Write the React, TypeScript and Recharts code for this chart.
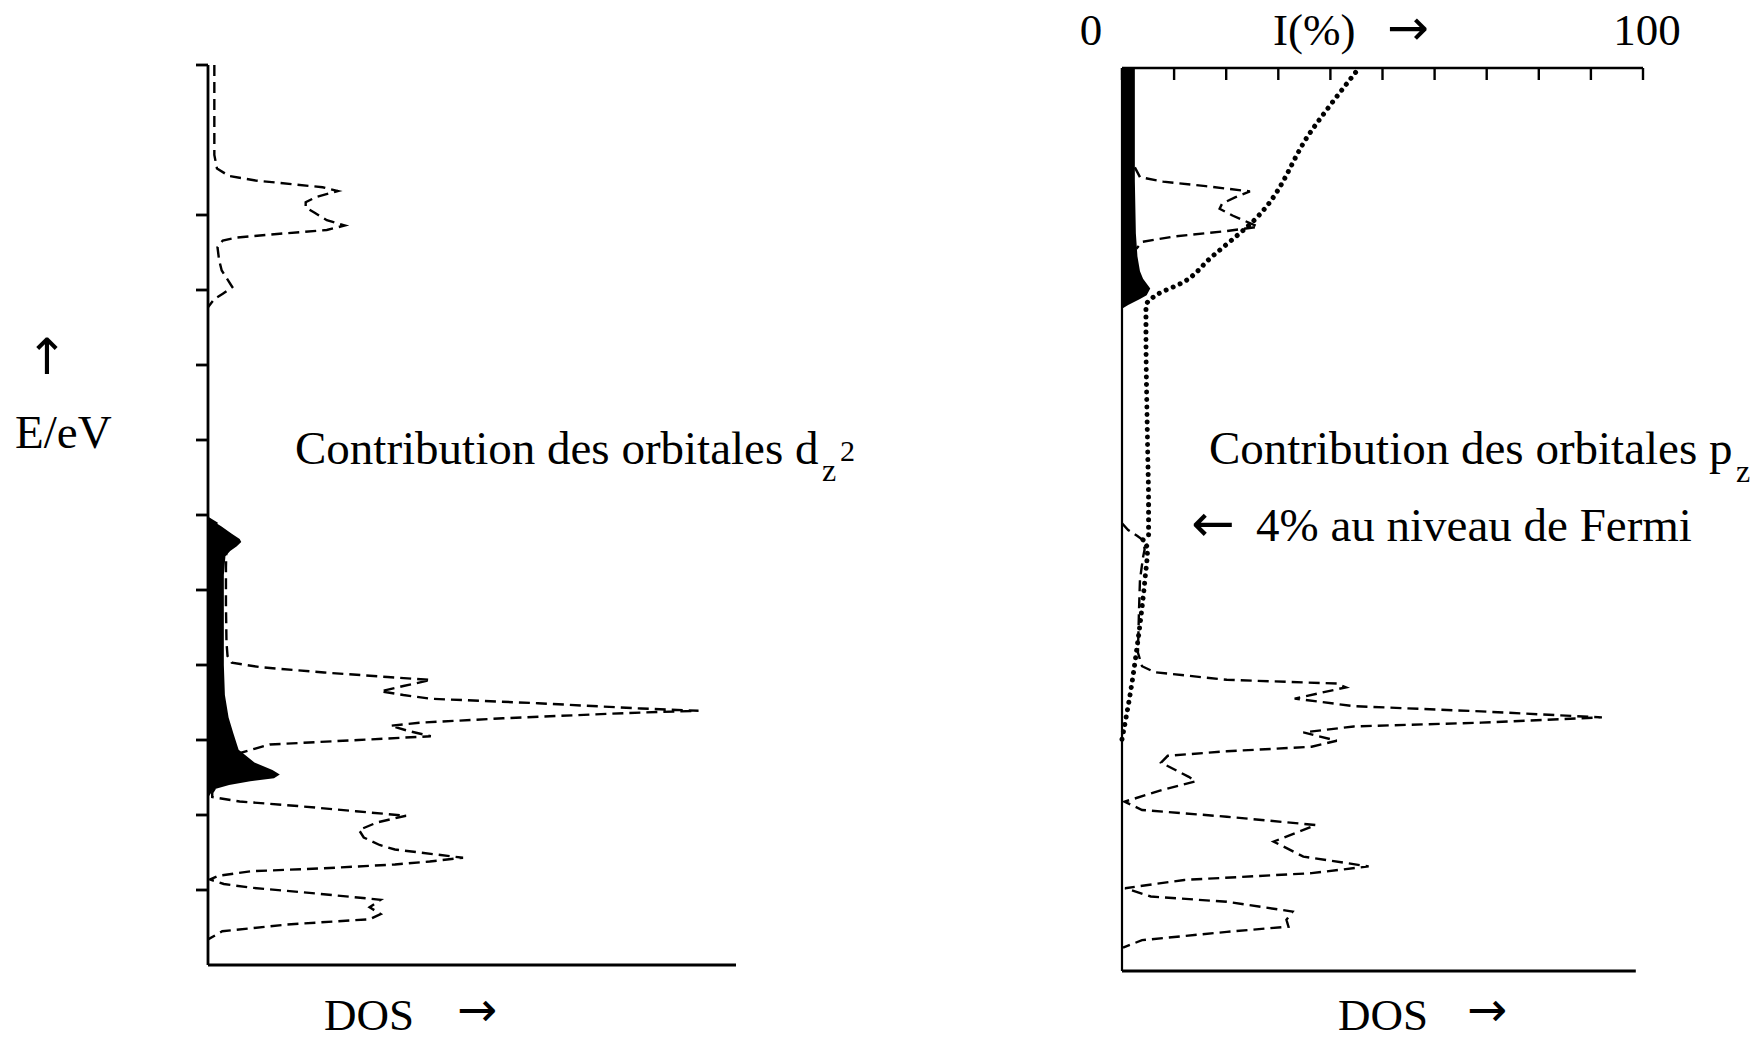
import React from 'react';
import { ComposedChart, Line, Area, XAxis, YAxis, ReferenceLine } from 'recharts';

type Pair = [number, number];

// Energy axis (eV from the bottom of the window) and its tick marks.
const energyDomain: [number, number] = [0, 12];
const energyTicks = [1, 2, 3, 4, 5, 6, 7, 8, 9, 10, 12];

// Top scale of the right panel: I(%)
const percentTicks = [0, 10, 20, 30, 40, 50, 60, 70, 80, 90, 100];

// d_z2 projected DOS, empty band above the Fermi level: [E, DOS]
const dz2Upper: Pair[] = [
  [12.0, 1.2], [10.8, 1.2], [10.62, 1.7], [10.52, 4.0], [10.46, 9.0], [10.37, 21.7],
  [10.32, 24.6], [10.24, 20.5], [10.17, 18.5], [10.1, 18.5], [10.03, 20.2], [9.93, 22.5],
  [9.86, 25.9], [9.8, 22.5], [9.75, 13.6], [9.7, 5.5], [9.66, 2.8], [9.57, 1.8],
  [9.4, 2.1], [9.26, 2.6], [9.04, 4.6], [8.95, 2.8], [8.88, 1.2], [8.77, 0],
];

// d_z2 projected DOS, filled bands below the Fermi level: [E, DOS]
const dz2Lower: Pair[] = [
  [5.96, 0], [5.88, 1.8], [5.78, 3.0], [5.6, 3.5], [5.3, 3.4], [4.8, 3.4], [4.3, 3.5],
  [4.12, 3.7], [4.03, 4.5], [3.97, 10], [3.9, 22], [3.84, 34], [3.8, 42.2], [3.72, 37],
  [3.65, 32.7], [3.6, 37], [3.55, 42.2], [3.49, 62.5], [3.42, 82], [3.39, 92.9],
  [3.36, 79.6], [3.29, 55.9], [3.23, 40], [3.19, 34.6], [3.12, 38], [3.05, 42.2],
  [3.0, 28.5], [2.94, 11.7], [2.83, 6.2], [2.55, 3], [2.3, 0.8], [2.24, 0.8], [2.18, 6],
  [2.12, 17], [2.05, 28], [1.99, 37.5], [1.9, 32], [1.8, 28.6], [1.7, 29.5], [1.6, 32.5],
  [1.54, 35.4], [1.43, 48.3], [1.38, 42], [1.34, 35.4], [1.29, 22], [1.25, 8.2],
  [1.19, 2], [1.14, 0.4], [1.08, 3], [1.03, 8.2], [0.95, 21], [0.87, 32.7], [0.77, 30.6],
  [0.68, 32.7], [0.61, 30.6], [0.54, 15], [0.45, 2.7], [0.34, 0],
];

// Contribution of the d_z2 orbitals (black area): [E, DOS]
const dz2Share: Pair[] = [
  [5.96, 0], [5.85, 2.5], [5.75, 4.5], [5.68, 6.0], [5.64, 6.3], [5.58, 5.4], [5.52, 4.2],
  [5.45, 3.3], [5.2, 3.0], [4.5, 3.0], [4.0, 3.0], [3.6, 3.2], [3.3, 3.9], [3.09, 4.8],
  [2.87, 5.8], [2.7, 8.8], [2.6, 12.2], [2.54, 13.6], [2.49, 12.5], [2.45, 8], [2.4, 4],
  [2.34, 1.0], [2.23, 0],
];

// p_z projected DOS, upper band: [E, DOS]
const pzUpper: Pair[] = [
  [10.68, 2.5], [10.55, 3.5], [10.49, 8], [10.43, 16.3], [10.36, 24.9], [10.28, 22],
  [10.2, 19.5], [10.13, 19], [10.04, 21.5], [9.89, 26.5], [9.83, 20], [9.76, 10],
  [9.69, 4], [9.6, 2.8],
];

// p_z projected DOS, lower bands: [E, DOS]
const pzLower: Pair[] = [
  [5.95, 0], [5.86, 1.2], [5.78, 3.0], [5.72, 4.2], [5.6, 4.4], [5.5, 4.1], [5.2, 3.5],
  [4.77, 3.3], [4.23, 3.1], [4.05, 3.9], [3.97, 6.4], [3.87, 20.4], [3.82, 41.8],
  [3.77, 43.6], [3.62, 33.6], [3.52, 45.1], [3.45, 69.9], [3.37, 93.4], [3.3, 69.9],
  [3.25, 45.1], [3.17, 35.3], [3.06, 41.8], [2.98, 36.9], [2.92, 20.4], [2.86, 8.9],
  [2.77, 7.6], [2.58, 13], [2.52, 14.3], [2.41, 8], [2.25, 0.5], [2.14, 3.9], [2.05, 20.4],
  [1.94, 37.7], [1.72, 29.5], [1.52, 35.3], [1.39, 48], [1.3, 36.9], [1.21, 12.1],
  [1.1, 0.6], [0.99, 5.6], [0.92, 20.4], [0.79, 33.2], [0.68, 32], [0.59, 32.4],
  [0.52, 20.4], [0.41, 3.9], [0.31, 0.2],
];

// Contribution of the p_z orbitals (black area): [E, DOS]
const pzShare: Pair[] = [
  [12, 2.5], [10.5, 2.5], [9.8, 2.7], [9.5, 3.0], [9.3, 3.5], [9.2, 4.1], [9.07, 5.5],
  [8.98, 4.8], [8.93, 3.5], [8.85, 1.2], [8.8, 0],
];

// Integrated p_z share I(%) (dotted curve): [E, I]; 4 % at the Fermi level
const pzPercent: Pair[] = [
  [3.08, 0], [3.65, 1.5], [4.31, 2.9], [5.2, 4.4], [5.62, 4.9], [5.72, 4], [5.8, 5.1],
  [6.2, 5.1], [7.0, 4.9], [8.5, 4.6], [8.84, 4.6], [8.97, 6.3], [9.16, 11.9],
  [9.47, 16.9], [10.0, 25.7], [11.16, 36.3], [12, 45.5],
];

const rows = (pairs: Pair[]) => pairs.map(([e, v]) => ({ e, v }));

const FONT = '"Liberation Serif", "Times New Roman", serif';
const ARROW_FONT = '"DejaVu Sans ExtraLight", "DejaVu Sans", sans-serif';
const INK = '#000';

// Tick marks only, no tick text.
const NoLabel = () => <g />;

const dashed = {
  type: 'linear' as const,
  stroke: INK,
  strokeWidth: 2.4,
  strokeDasharray: '11 6',
  dot: false,
  activeDot: false,
  isAnimationActive: false,
};

function LeftPanel() {
  return (
    <div style={{ position: 'absolute', left: 0, top: 0 }}>
      <ComposedChart
        layout="vertical"
        width={760}
        height={1000}
        margin={{ top: 65, right: 24, bottom: 34, left: 207 }}
      >
        <XAxis
          type="number"
          xAxisId="dos"
          domain={[0, 100]}
          allowDataOverflow
          height={1}
          tick={NoLabel}
          tickLine={false}
          stroke={INK}
          axisLine={{ stroke: INK, strokeWidth: 2.8 }}
        />
        <YAxis
          type="number"
          dataKey="e"
          domain={energyDomain}
          allowDataOverflow
          reversed
          ticks={energyTicks}
          interval={0}
          width={1}
          tick={NoLabel}
          tickSize={12}
          stroke={INK}
          tickLine={{ stroke: INK, strokeWidth: 2.8 }}
          axisLine={{ stroke: INK, strokeWidth: 2.8 }}
        />
        <Area
          data={rows(dz2Share)}
          dataKey="v"
          xAxisId="dos"
          type="linear"
          fill={INK}
          fillOpacity={1}
          stroke="none"
          dot={false}
          activeDot={false}
          isAnimationActive={false}
        />
        <Line data={rows(dz2Upper)} dataKey="v" xAxisId="dos" {...dashed} />
        <Line data={rows(dz2Lower)} dataKey="v" xAxisId="dos" {...dashed} />
      </ComposedChart>
    </div>
  );
}

function RightPanel() {
  return (
    <div style={{ position: 'absolute', left: 1080, top: 0 }}>
      <ComposedChart
        layout="vertical"
        width={620}
        height={1000}
        margin={{ top: 68, right: 57, bottom: 29, left: 41 }}
      >
        <XAxis
          type="number"
          xAxisId="pct"
          orientation="top"
          domain={[0, 100]}
          ticks={percentTicks}
          interval={0}
          mirror
          height={1}
          tick={NoLabel}
          tickSize={12}
          stroke={INK}
          tickLine={{ stroke: INK, strokeWidth: 2.4 }}
          axisLine={{ stroke: INK, strokeWidth: 2.4 }}
        />
        <XAxis
          type="number"
          xAxisId="dos"
          domain={[0, 101.4]}
          allowDataOverflow
          height={0}
          hide
        />
        <YAxis
          type="number"
          dataKey="e"
          domain={energyDomain}
          allowDataOverflow
          reversed
          width={1}
          tick={false}
          tickLine={false}
          stroke={INK}
          axisLine={{ stroke: INK, strokeWidth: 2.2 }}
        />
        <ReferenceLine
          xAxisId="dos"
          segment={[{ x: 0, y: 0 }, { x: 100, y: 0 }]}
          stroke={INK}
          strokeWidth={2.8}
          ifOverflow="visible"
        />
        <Area
          data={rows(pzShare)}
          dataKey="v"
          xAxisId="dos"
          type="linear"
          fill={INK}
          fillOpacity={1}
          stroke="none"
          dot={false}
          activeDot={false}
          isAnimationActive={false}
        />
        <Line data={rows(pzUpper)} dataKey="v" xAxisId="dos" {...dashed} />
        <Line data={rows(pzLower)} dataKey="v" xAxisId="dos" {...dashed} />
        <Line
          data={rows(pzPercent)}
          dataKey="v"
          xAxisId="pct"
          type="monotone"
          stroke={INK}
          strokeWidth={5}
          strokeLinecap="round"
          strokeDasharray="0.01 7.5"
          dot={false}
          activeDot={false}
          isAnimationActive={false}
        />
      </ComposedChart>
    </div>
  );
}

function Labels() {
  return (
    <svg
      width={1758}
      height={1042}
      style={{ position: 'absolute', left: 0, top: 0, pointerEvents: 'none' }}
      fontFamily={FONT}
      fill={INK}
    >
      <text x={47} y={374} fontSize={50} textAnchor="middle" fontFamily={ARROW_FONT}>↑</text>
      <text x={15} y={448} fontSize={47}>E/eV</text>

      <text x={295} y={464} fontSize={47}>Contribution des orbitales d</text>
      <text x={822} y={481} fontSize={32}>z</text>
      <text x={840} y={461} fontSize={30}>2</text>

      <text x={1209} y={464} fontSize={47}>Contribution des orbitales p</text>
      <text x={1736} y={482} fontSize={32}>z</text>

      <text x={1191} y={541} fontSize={52} fontFamily={ARROW_FONT}>←</text>
      <text x={1256} y={541} fontSize={47}>4% au niveau de Fermi</text>

      <text x={1091} y={45} fontSize={45} textAnchor="middle">0</text>
      <text x={1273} y={45} fontSize={45}>I(%)</text>
      <text x={1387} y={45} fontSize={50} fontFamily={ARROW_FONT}>→</text>
      <text x={1647} y={45} fontSize={45} textAnchor="middle">100</text>

      <text x={324} y={1030} fontSize={45}>DOS</text>
      <text x={457} y={1026} fontSize={48} fontFamily={ARROW_FONT}>→</text>
      <text x={1338} y={1030} fontSize={45}>DOS</text>
      <text x={1467} y={1026} fontSize={48} fontFamily={ARROW_FONT}>→</text>
    </svg>
  );
}

export default function App() {
  return (
    <div
      style={{
        position: 'absolute',
        left: 0,
        top: 0,
        width: 1758,
        height: 1042,
        background: '#fff',
        overflow: 'hidden',
      }}
    >
      <LeftPanel />
      <RightPanel />
      <Labels />
    </div>
  );
}
